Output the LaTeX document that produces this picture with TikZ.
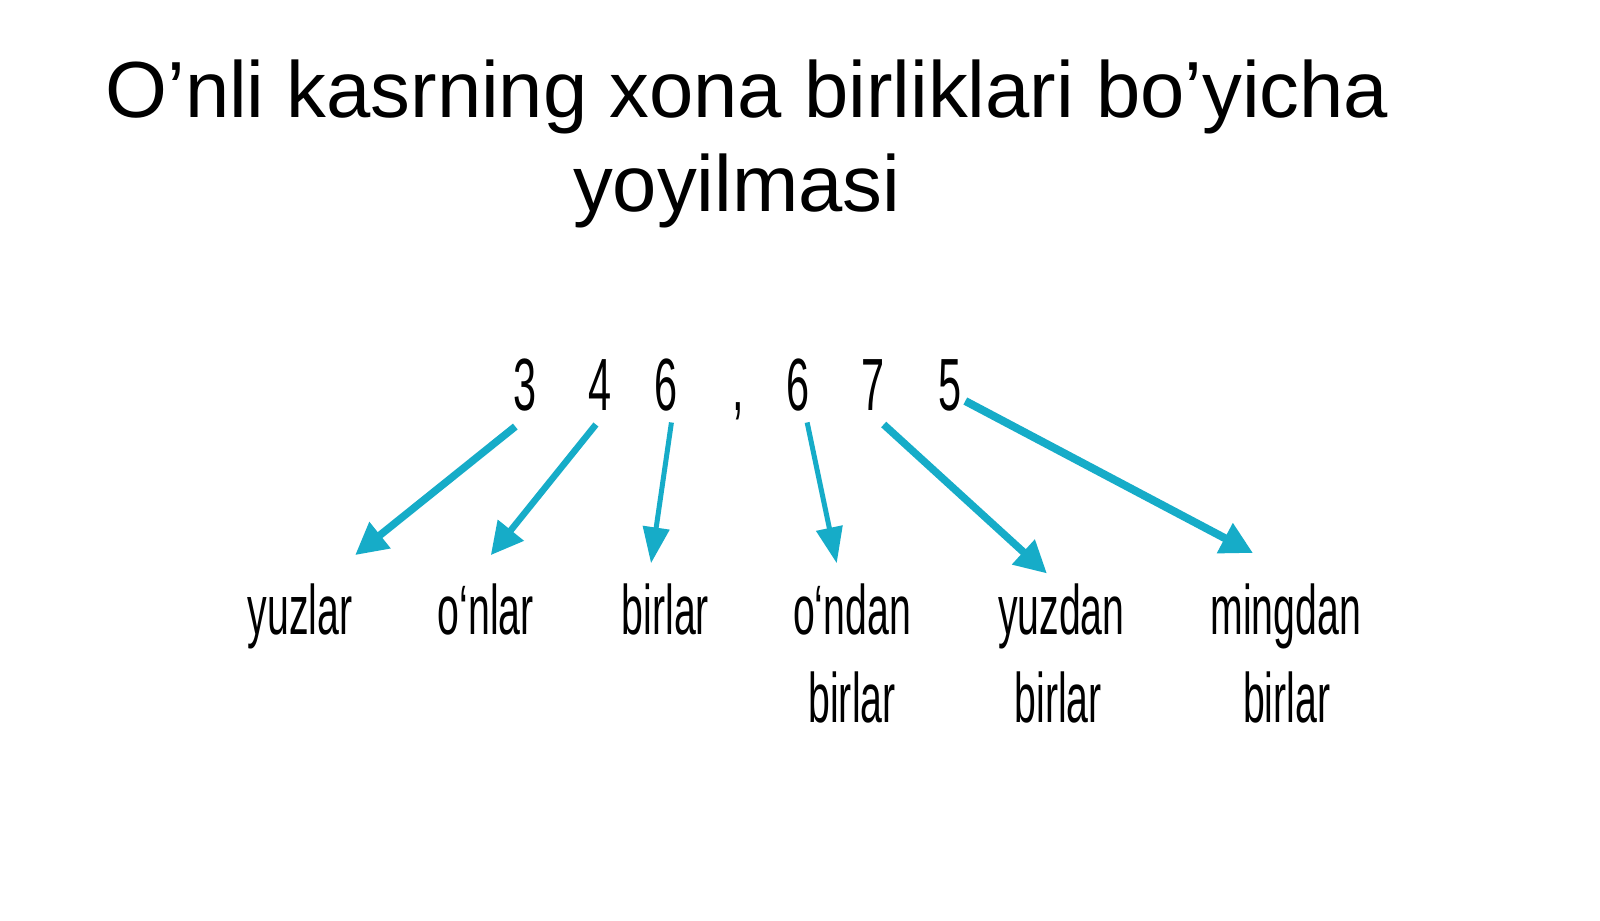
\documentclass[tikz,border=0pt]{standalone}
\usepackage{fontspec}
\setmainfont{Liberation Sans}
\newfontfamily\narrowfont[FakeStretch=0.56]{Liberation Sans}
\usetikzlibrary{arrows.meta}
\definecolor{arrowteal}{RGB}{22,172,200}
\tikzset{
  titletext/.style={anchor=base,inner sep=0pt,font=\fontsize{79.6}{92}\selectfont},
  digit/.style={anchor=base,inner sep=0pt,font=\narrowfont\fontsize{74}{80}\selectfont},
  label/.style={anchor=base,inner sep=0pt,font=\narrowfont\fontsize{70}{80}\selectfont},
  thickarrow/.style={draw=arrowteal,line width=7.5pt,-{Triangle[length=32pt,width=32pt]}},
  thinarrow/.style={draw=arrowteal,line width=5pt,-{Triangle[length=36pt,width=26pt]}}
}
\begin{document}
\begin{tikzpicture}[x=1.0204pt,y=-1.0204pt]
\useasboundingbox[fill=white] (0,0) rectangle (1568,901.6);
% title
\node[titletext] (t1) at (732,115) {O’nli kasrning xona birliklari bo’yicha};
\node[titletext] (t2) at (722,207) {yoyilmasi};
% digits
\node[digit] (d1) at (515,402) {3};
\node[digit] (d2) at (588,402) {4};
\node[digit] (d3) at (653,402) {6};
\node[digit] (dc) at (723,402) {,};
\node[digit] (d4) at (782,402) {6};
\node[digit] (d5) at (856,402) {7};
\node[digit] (d6) at (931,402) {5};
% labels
\node[label] (l1) at (294,622) {yuzlar};
\node[label] (l2) at (476,622) {o‘nlar};
\node[label] (l3) at (652,622) {birlar};
\node[label] (l4) at (835,622) {o‘ndan};
\node[label] (l4b) at (835,708) {birlar};
\node[label] (l5) at (1040,622) {yuzdan};
\node[label] (l5b) at (1037,708) {birlar};
\node[label] (l6) at (1260,622) {mingdan};
\node[label] (l6b) at (1261,708) {birlar};
% arrows
\draw[thickarrow] ([shift={(-10,16)}]d1.base) -- ([shift={(54,-78)}]l1.base);
\draw[thickarrow,line width=6.5pt] ([shift={(-4,14)}]d2.base) -- ([shift={(5,-78)}]l2.base);
\draw[thinarrow] ([shift={(5,12)}]d3.base) -- ([shift={(-14,-70)}]l3.base);
\draw[thinarrow] ([shift={(9,12)}]d4.base) -- ([shift={(-15,-70)}]l4.base);
\draw[thickarrow] ([shift={(10,14)}]d5.base) -- ([shift={(-14,-60)}]l5.base);
\draw[thickarrow,line width=8pt] ([shift={(15,-9)}]d6.base) -- ([shift={(-32,-80)}]l6.base);
\end{tikzpicture}
\end{document}
